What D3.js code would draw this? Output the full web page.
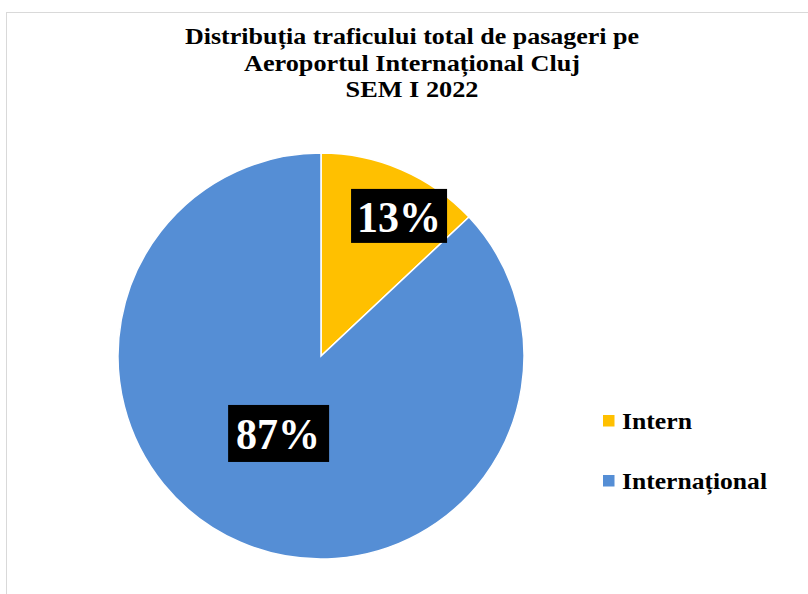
<!DOCTYPE html>
<html>
<head>
<meta charset="utf-8">
<script src="https://cdn.jsdelivr.net/npm/d3@7"></script>
<style>
  body { margin: 0; background: #fff; }
  text { font-family: "Liberation Serif", "Times New Roman", serif; font-weight: bold; }
</style>
</head>
<body>
<svg id="chart"></svg>
<script>
const categories = ["Intern", "Internațional"]
const shares = [13, 87]
const colors = ["#ffc000", "#558ed5"]
const titleLines = [
  "Distribuția traficului total de pasageri pe",
  "Aeroportul Internațional Cluj",
  "SEM I 2022"
]

const width = 808, height = 594
const cx = 321, cy = 356, radius = 203

const svg = d3.select("#chart")
  .attr("width", width)
  .attr("height", height)

// chart frame
svg.append("rect")
  .attr("x", 6.5).attr("y", 12.5)
  .attr("width", 900).attr("height", 700)
  .attr("fill", "none")
  .attr("stroke", "#d9d9d9")

// the original font is a bit wider than Liberation Serif, so stretch to measured widths
const titleWidths = [454, 336, 133]
svg.append("g")
  .selectAll("text")
  .data(titleLines)
  .join("text")
    .attr("x", 412)
    .attr("y", (d, i) => 44 + i * 26.5)
    .attr("text-anchor", "middle")
    .attr("font-size", 24)
    .attr("textLength", (d, i) => titleWidths[i])
    .attr("lengthAdjust", "spacingAndGlyphs")
    .attr("fill", "#000")
    .text(d => d)

const pie = d3.pie().sort(null).value(d => d.value)
const data = categories.map((c, i) => ({ name: c, value: shares[i], color: colors[i] }))
const arcs = pie(data)

const arc = d3.arc().innerRadius(0).outerRadius(radius)
const g = svg.append("g").attr("transform", `translate(${cx},${cy})`)

g.selectAll("path")
  .data(arcs)
  .join("path")
    .attr("d", arc)
    .attr("fill", d => d.data.color)
    .attr("stroke", "#fff")
    .attr("stroke-width", 1.5)

// labels were moved by hand in the original: a bit past mid-angle, at different radii
const labelRadius = [0.79, 0.434]
const labelShift = 0.1
const labels = g.selectAll("g.label")
  .data(arcs)
  .join("g")
    .attr("class", "label")
    .attr("transform", (d, i) => {
      let a = (d.startAngle + d.endAngle) / 2 + labelShift
      let r = radius * labelRadius[i]
      return `translate(${r * Math.sin(a)},${-r * Math.cos(a)})`
    })

labels.append("rect")
  .attr("x", (d, i) => i ? -50 : -48)
  .attr("y", (d, i) => i ? -28 : -27)
  .attr("width", (d, i) => i ? 101 : 96)
  .attr("height", (d, i) => i ? 57 : 54)
  .attr("fill", "#000")

labels.append("text")
  .attr("text-anchor", "middle")
  .attr("y", 16.5)
  .attr("font-size", 44)
  .attr("textLength", 84)
  .attr("lengthAdjust", "spacingAndGlyphs")
  .attr("fill", "#fff")
  .text(d => Math.round(d.data.value) + "%")

const legendWidths = [70, 145]
const legend = svg.append("g")
  .selectAll("g")
  .data(data)
  .join("g")
    .attr("transform", (d, i) => `translate(603,${415 + i * 60})`)

legend.append("rect")
  .attr("width", 11.5).attr("height", 11.5)
  .attr("fill", d => d.color)

legend.append("text")
  .attr("x", 19)
  .attr("y", 13.5)
  .attr("font-size", 23)
  .attr("textLength", (d, i) => legendWidths[i])
  .attr("lengthAdjust", "spacingAndGlyphs")
  .attr("fill", "#000")
  .text(d => d.name)
</script>
</body>
</html>
